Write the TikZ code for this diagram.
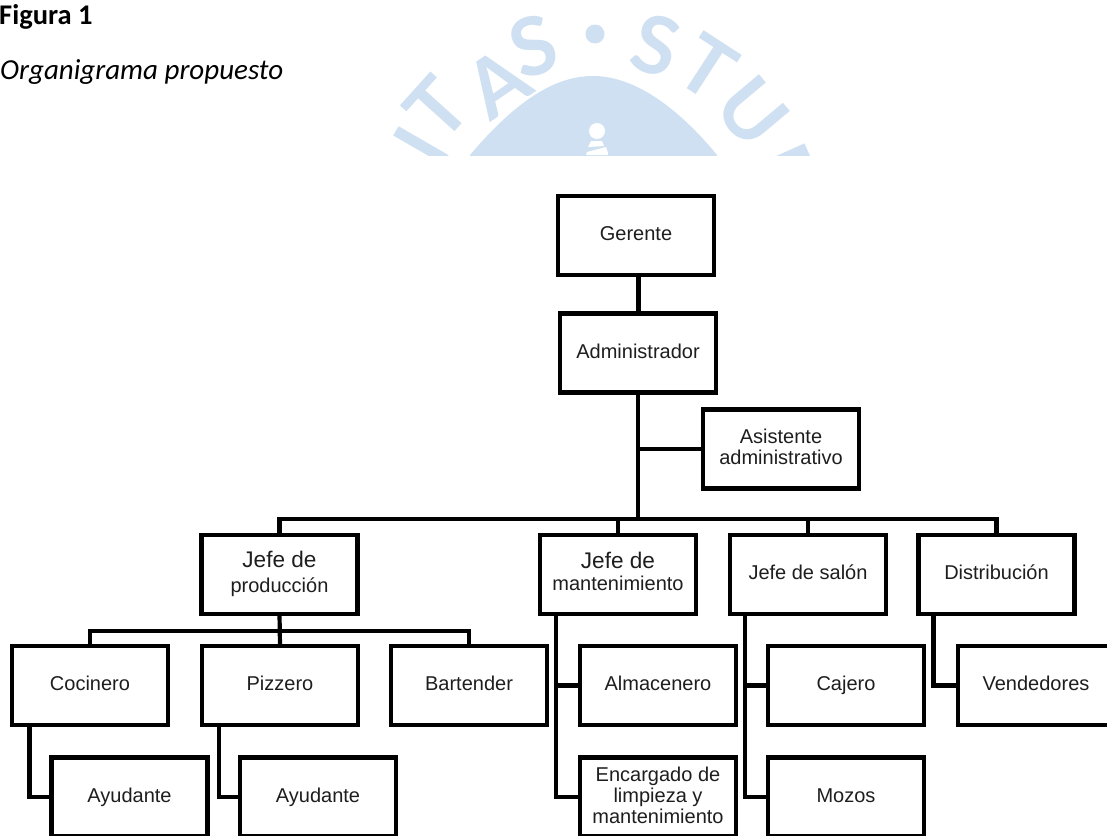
\documentclass[tikz,border=0pt]{standalone}
\usepackage{fontspec}
\setmainfont{Liberation Sans}
\newfontfamily\capfont{Carlito}
\newfontfamily\wmfont{Lato}
\usetikzlibrary{calc}
\definecolor{wmblue}{HTML}{CEE0F1}
\definecolor{inkc}{HTML}{1E1E1E}
\tikzset{
  orgbox/.style={draw=black,fill=white,line width=4.3pt,rectangle,minimum width=156pt,minimum height=79pt,
    inner sep=0pt,outer sep=0pt,align=center,text=inkc,font=\fontsize{20}{21}\selectfont},
  conn/.style={draw=black,line width=4.2pt,line join=miter},
  thick conn/.style={draw=black,line width=5pt},
  wmletter/.style={text=wmblue,font=\wmfont\bfseries\fontsize{80}{80}\selectfont,inner sep=0pt},
  captext/.style={anchor=base west,inner sep=0pt,text=black}
}
\newcommand{\st}{\rule[-5.5pt]{0pt}{21pt}}
\newcommand{\bigjefe}{{\fontsize{22.6}{21}\selectfont\st Jefe de}}
\begin{document}
\begin{tikzpicture}[x=1pt,y=-1pt]
\useasboundingbox (0,0) rectangle (1107,835);
\clip (0,0) rectangle (1107,835);
\fill[white] (0,0) rectangle (1107,835);
% watermark
\begin{scope}
  \clip (300,0) rectangle (860,155);
  \fill[wmblue] (470,155) .. controls (510,108) and (550,76) .. (593,76) .. controls (636,76) and (680,110) .. (717,155) -- (717,160) -- (470,160) -- cycle;
  \fill[white] (597,131) circle (8);
  \fill[white] (588,147) -- (591,141) -- (602,141) -- (604,146) -- cycle;
  \fill[white] (586,155) -- (587,152) -- (606,147) -- (608,153) -- (608,155) -- cycle;
  \fill[wmblue] (595,34) circle (9.5);
  \node[wmletter,rotate=18] (wS) at (533,46) {S};
  \node[wmletter,rotate=34] (wA) at (497,83) {A};
  \node[wmletter,rotate=48] (wT) at (437,108) {T};
  \node[wmletter,rotate=60] (wI) at (421,146) {I};
  \node[wmletter,rotate=70] (wR) at (388,181) {R};
  \node[wmletter,rotate=-17] (wSb) at (656,45) {S};
  \node[wmletter,rotate=-33] (wTb) at (707,67) {T};
  \node[wmletter,rotate=-50] (wU) at (752,112) {U};
  \node[wmletter,rotate=-66] (wD) at (788,178) {D};
\end{scope}
% caption
\node[captext,font=\capfont\bfseries\fontsize{28.5}{32}\selectfont] (fig) at (-1,24) {Figura 1};
\node[captext,font=\capfont\itshape\fontsize{29}{32}\selectfont] (org) at (0,79) {Organigrama propuesto};
% boxes
\node[orgbox] (gerente) at (636,235.5) {\st Gerente};
\node[orgbox] (admin) at (638,353) {\st Administrador};
\node[orgbox] (asist) at (781,449) {\st Asistente\\\st administrativo};
\node[orgbox] (prod) at (279.5,574.5) {\bigjefe\\[4pt]\st producción};
\node[orgbox] (mant) at (618,574.5) {\bigjefe\\[1pt]\st mantenimiento};
\node[orgbox] (salon) at (808,574.5) {\st Jefe de salón};
\node[orgbox] (dist) at (996.5,574.5) {\st Distribución};
\node[orgbox] (coc) at (90,685.5) {\st Cocinero};
\node[orgbox] (piz) at (280,685.5) {\st Pizzero};
\node[orgbox] (bar) at (469,685.5) {\st Bartender};
\node[orgbox] (alm) at (658,685.5) {\st Almacenero};
\node[orgbox] (caj) at (846,685.5) {\st Cajero};
\node[orgbox] (ven) at (1036,685.5) {\st Vendedores};
\node[orgbox] (ayu1) at (129.5,797) {\st Ayudante};
\node[orgbox] (ayu2) at (318,797) {\st Ayudante};
\node[orgbox] (enc) at (658,797) {\st Encargado de\\\st limpieza y\\\st mantenimiento};
\node[orgbox] (moz) at (846,797) {\st Mozos};
% connectors
\coordinate (busA) at (638,519);
\coordinate (busB) at (280,631);
\draw[thick conn] (gerente.south -| admin.north) -- (admin.north);
\draw[conn,line width=4.5pt] (admin.south) -- (busA);
\draw[conn] (asist.west) -- (asist.west -| admin.south);
\draw[conn] (prod.north) |- (busA) -| (dist.north);
\draw[conn] (mant.north) -- (mant.north |- busA);
\draw[conn] (salon.north) -- (salon.north |- busA);
\draw[conn] (prod.south) -- (piz.north);
\draw[conn] (coc.north) |- (busB) -| (bar.north);
\draw[conn] ([xshift=17.5pt]coc.south west) |- (ayu1.west);
\draw[conn] ([xshift=17pt]piz.south west) |- (ayu2.west);
\draw[conn] ([xshift=16pt]mant.south west) |- (enc.west);
\draw[conn] ([xshift=16pt]mant.south west |- alm.west) -- (alm.west);
\draw[conn] ([xshift=15pt]salon.south west) |- (moz.west);
\draw[conn] ([xshift=15pt]salon.south west |- caj.west) -- (caj.west);
\draw[conn] ([xshift=15pt]dist.south west) |- (ven.west);
\end{tikzpicture}
\end{document}
